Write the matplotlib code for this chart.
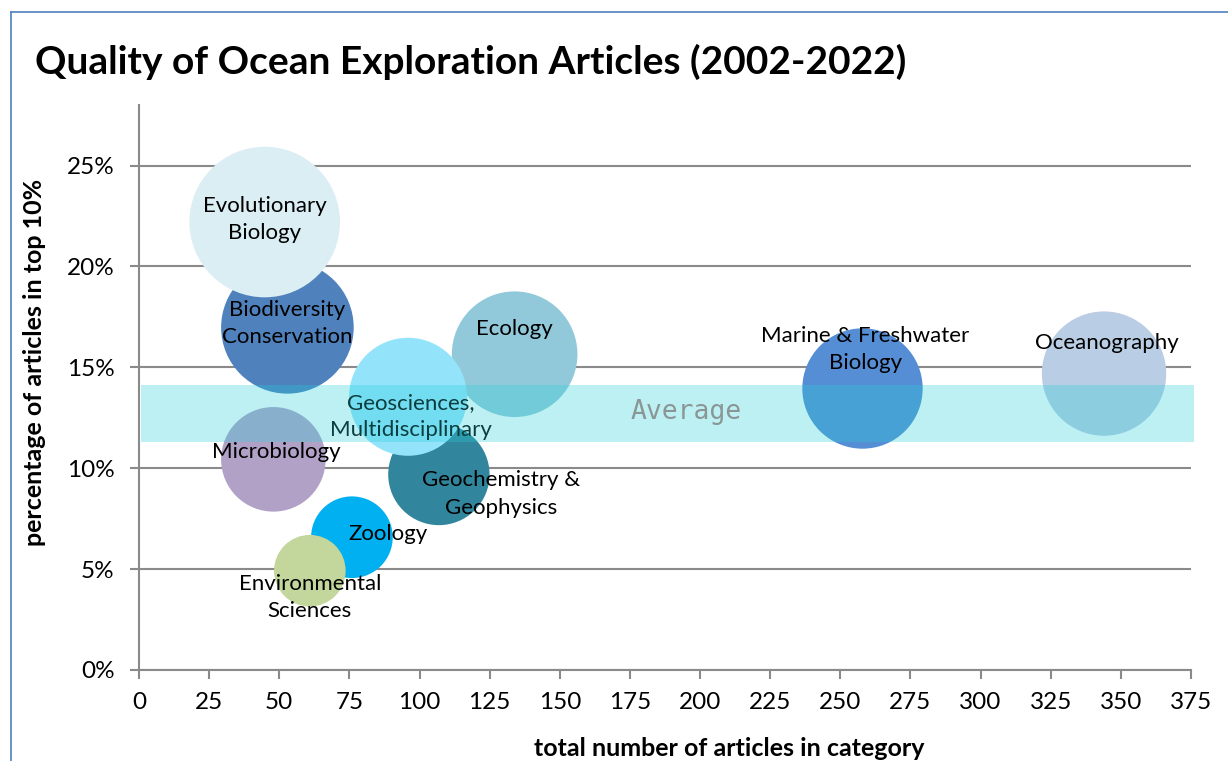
import matplotlib.pyplot as plt
from matplotlib.lines import Line2D

plt.rcParams["font.family"] = ["Lato", "DejaVu Sans"]

# data (draw order kept as in the original)
categories = [
    "Biodiversity\nConservation",
    "Evolutionary\nBiology",
    "Ecology",
    "Geochemistry &\nGeophysics",
    "Geosciences,\nMultidisciplinary",
    "Microbiology",
    "Zoology",
    "Environmental\nSciences",
    "Marine & Freshwater\nBiology",
    "Oceanography",
]
total_articles = [52.9, 44.8, 133.9, 106.9, 95.9, 47.9, 75.9, 60.9, 257.9, 344.0]
pct_top10 = [16.98, 22.2, 15.65, 9.69, 13.54, 10.44, 6.58, 4.92, 13.95, 14.69]
bubble_value = [77.5, 100, 69.6, 45.3, 61.4, 48.2, 29.4, 22.6, 63.9, 68.2]
avg_low, avg_high = 11.3, 14.1

colors = ["#4F81BD", "#DAEEF3", "#92C9DA", "#31859C", "#93E3FB",
          "#B2A1C7", "#00B0F0", "#C3D69B", "#558ED5", "#B9CDE5"]
# label offsets from bubble centre, in points
label_offsets = [(0, 3), (0, 2), (0, 18), (45, -14), (2, -14),
                 (2, 5), (26, 2), (0, -19), (2, 28), (2, 22)]

W, H = 1228, 761
fig = plt.figure(figsize=(W / 100, H / 100), dpi=100)
ax = fig.add_axes([139 / W, 1 - 670 / H, 1052 / W, 565 / H])

grey = "#8A8A8A"
sizes = [v / 100 * (2 * 75.3 * 0.72) ** 2 for v in bubble_value]
ax.scatter(total_articles, pct_top10, s=sizes, c=colors, linewidths=0, zorder=3)

for name, x, y, off in zip(categories, total_articles, pct_top10, label_offsets):
    ax.annotate(name, (x, y), xytext=off, textcoords="offset points",
                ha="center", va="center", fontsize=16, color="black",
                linespacing=1.45, zorder=4)

ax.axhspan(avg_low, avg_high, xmin=0.002, xmax=1.003, color="#27D0D7",
           alpha=0.3, lw=0, zorder=5, clip_on=False)
ax.text(195, 12.8, "Average", ha="center", va="center", fontsize=19,
        family="DejaVu Sans Mono", color="#8A9696", zorder=6)

ax.set_xlim(0, 375)
ax.set_ylim(0, 28)
ax.set_xticks(range(0, 376, 25))
ax.set_yticks(range(0, 26, 5))
ax.set_yticklabels([f"{v}%" for v in range(0, 26, 5)])
ax.grid(axis="y", color=grey, lw=1.5, zorder=1)
ax.set_axisbelow(True)
for s in ["top", "right"]:
    ax.spines[s].set_visible(False)
for s in ["left", "bottom"]:
    ax.spines[s].set_color(grey)
    ax.spines[s].set_linewidth(1.5)
ax.tick_params(axis="both", direction="out", length=6.5, width=1.5,
               color=grey, labelsize=17.5)
ax.tick_params(axis="y", pad=11)
ax.tick_params(axis="x", pad=9)

ax.set_xlabel("total number of articles in category", fontsize=18,
              fontweight="bold")
ax.xaxis.set_label_coords(0.561, -0.118)
ax.set_ylabel("percentage of articles in top 10%", fontsize=18,
              fontweight="bold")
ax.yaxis.set_label_coords(-0.088, 0.545)

fig.text(35 / W, 1 - 62 / H, "Quality of Ocean Exploration Articles (2002-2022)",
         fontsize=28, fontweight="bold", ha="left", va="center")

# outer frame (left and top edges only are visible)
fx, fy = 10.5 / W, 1 - 11.5 / H
fig.add_artist(Line2D([fx, fx], [0, fy], color="#4F81BD", lw=1.2))
fig.add_artist(Line2D([fx, 1], [fy, fy], color="#4F81BD", lw=1.2))

fig.savefig("out.png", dpi=100)
